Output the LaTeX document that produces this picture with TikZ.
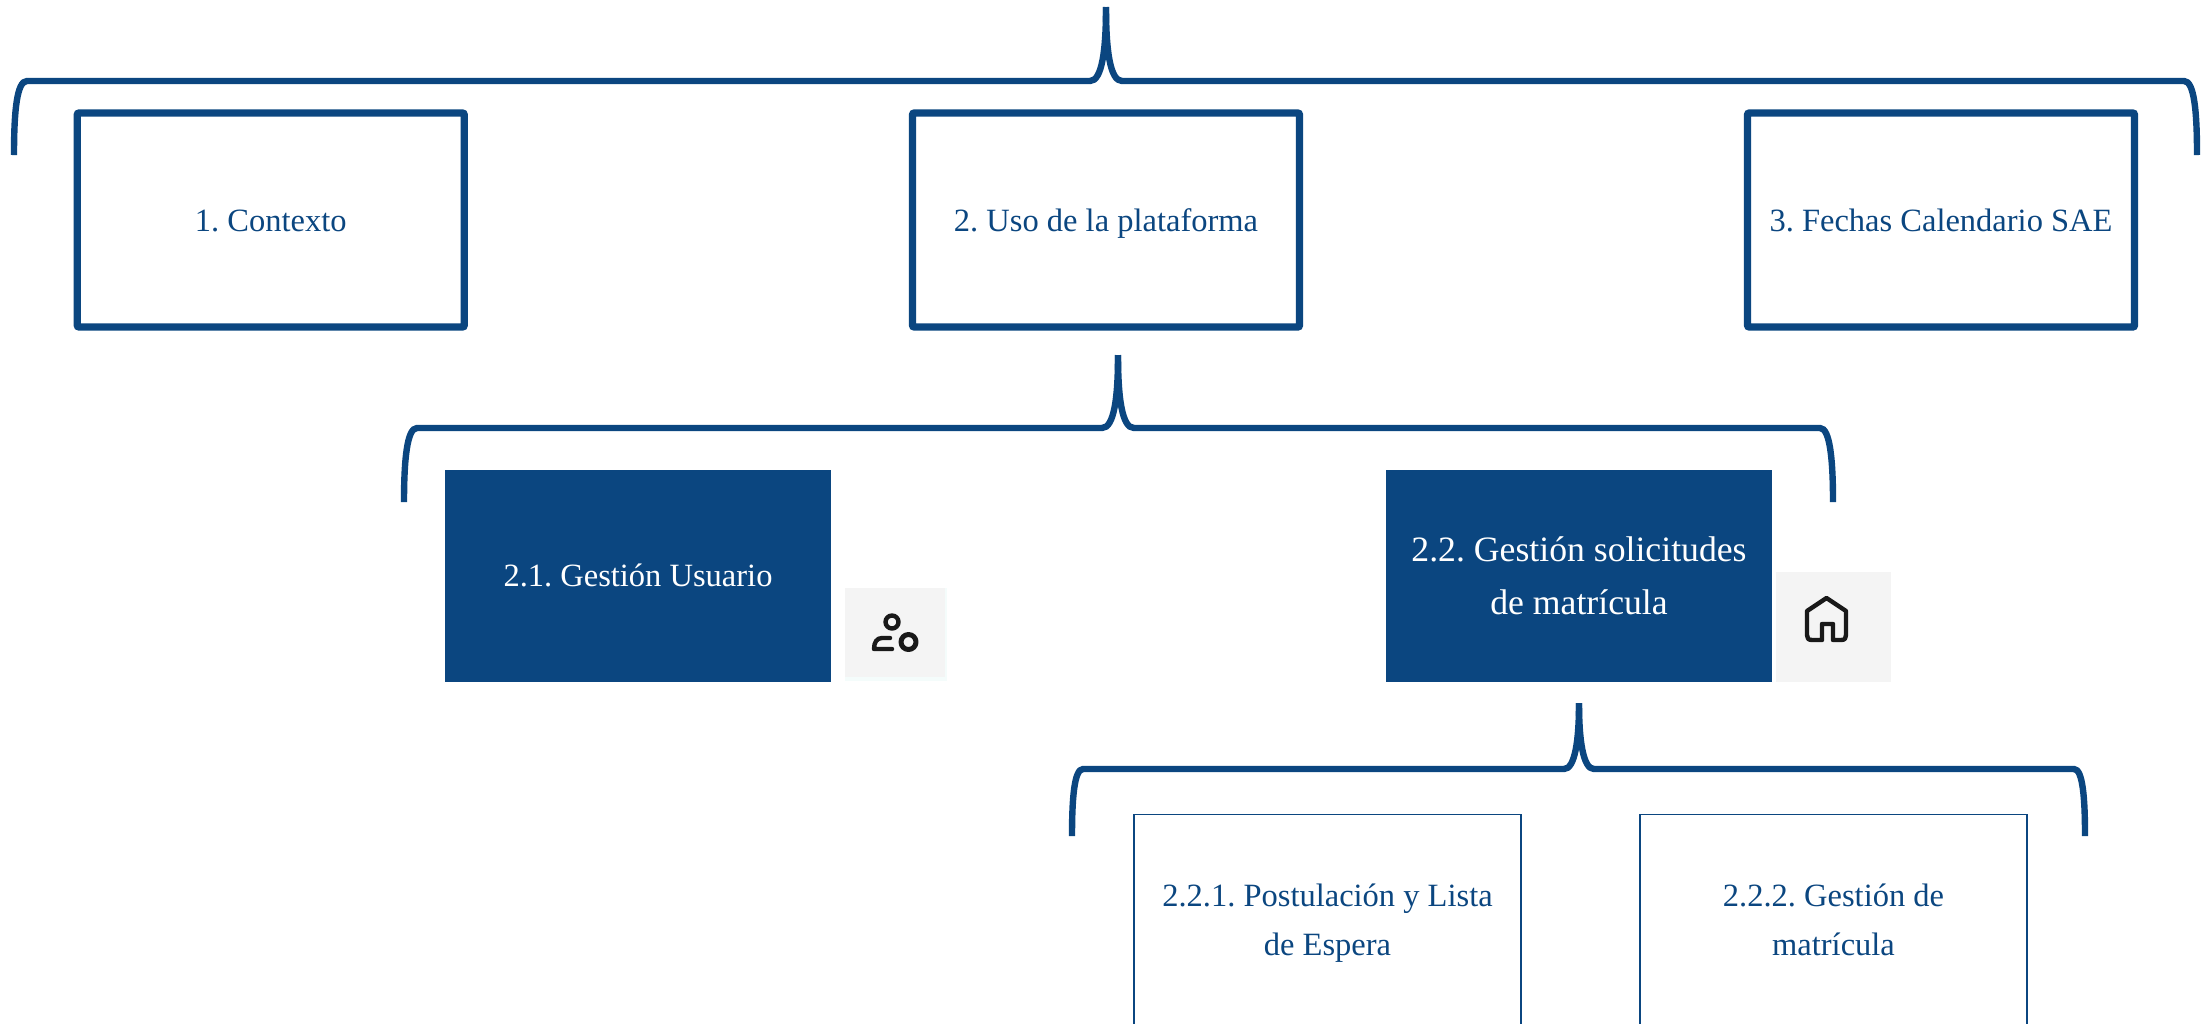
\documentclass[tikz,border=0pt]{standalone}
\usepackage{fontspec}
\setmainfont{Liberation Serif}
\definecolor{navy}{HTML}{0B4680}
\definecolor{iconbg}{HTML}{F4F4F4}
\definecolor{iconedge}{HTML}{F4FCFB}
\frenchspacing
\tikzset{
 x=1pt,y=-1pt,
 brace/.style={draw=navy,line width=6.4pt},
 thickbox/.style={draw=navy,line width=7.4pt,rounded corners=2pt,fill=white,minimum width=387pt,minimum height=214pt,text=navy,font=\fontsize{32.5}{50}\selectfont,align=center,inner sep=0pt,text height=22pt,text depth=0pt},
 solidbox/.style={fill=navy,minimum width=386pt,minimum height=212pt,text=white,font=\fontsize{35.7}{53}\selectfont,align=center,inner sep=0pt},
 thinbox/.style={draw=navy,line width=1.8pt},
 lab/.style={text=navy,font=\fontsize{32.5}{49.5}\selectfont,align=center,inner sep=0pt},
 iconbox/.style={fill=iconbg,inner sep=0pt},
 iconline/.style={draw=black!90,line width=4.4pt,line cap=round,line join=round},
}
\begin{document}
\begin{tikzpicture}
\useasboundingbox (0,0) rectangle (2208,1023);
% top brace
\coordinate (t1) at (1106,7);\coordinate (t1l) at (14,155);\coordinate (t1r) at (2197,155);
\draw[brace] (t1l) .. controls (14,110) and (17,81) .. (27,81) -- (1090,81) .. controls (1102,81) and (1106,50) .. (t1);
\draw[brace] (t1r) .. controls (2197,110) and (2194,81) .. (2184,81) -- (1122,81) .. controls (1110,81) and (1106,50) .. (t1);
\node[thickbox] (n1) at (270.75,220) {1. Contexto};
\node[thickbox] (n2) at (1106,220) {2. Uso de la plataforma};
\node[thickbox] (n3) at (1941,220) {3. Fechas Calendario SAE};
% second brace
\coordinate (t2) at (1118,355);\coordinate (t2l) at (404,502);\coordinate (t2r) at (1833,502);
\draw[brace] (t2l) .. controls (404,460) and (407,428) .. (417,428) -- (1102,428) .. controls (1114,428) and (1118,398) .. (t2);
\draw[brace] (t2r) .. controls (1833,460) and (1830,428) .. (1820,428) -- (1134,428) .. controls (1122,428) and (1118,398) .. (t2);
\node[solidbox,font=\fontsize{32.5}{50}\selectfont,text height=22pt,text depth=0pt] (n21) at (638,575.5) {2.1. Gestión Usuario};
\node[solidbox] (n22) at (1579,575.5) {};
\node[text=white,font=\fontsize{35.7}{53}\selectfont,align=center,inner sep=0pt] (n22t) at (1579,577) {\strut 2.2. Gestión solicitudes\\\strut de matrícula};
% icons
\fill[iconedge] (845,588) rectangle (947,681);
\node[iconbox,minimum width=100pt,minimum height=89pt] (i1) at (895,632.5) {};
\node[iconbox,minimum width=115pt,minimum height=110pt] (i2) at (1833.5,627) {};
\draw[iconline] (892,622) circle (6.5);
\draw[iconline] (890,638) -- (882,638) .. controls (877,638) and (874,642) .. (874,649) -- (892,649);
\draw[iconline,line width=5pt] (908.5,642) circle (7.5);
\draw[iconline] (1822,640) -- (1822,624) -- (1833,624) -- (1833,640) -- (1841,640) .. controls (1845,640) and (1846,638) .. (1846,635) -- (1846,611) -- (1826.5,598) -- (1807,611) -- (1807,635) .. controls (1807,638) and (1808,640) .. (1812,640) -- cycle;
% third brace
\coordinate (t3) at (1579,703);\coordinate (t3l) at (1072,836);\coordinate (t3r) at (2085,836);
\draw[brace] (t3l) .. controls (1072,800) and (1074,769) .. (1083,769) -- (1564,769) .. controls (1575,769) and (1579,740) .. (t3);
\draw[brace] (t3r) .. controls (2085,800) and (2083,769) .. (2074,769) -- (1594,769) .. controls (1583,769) and (1579,740) .. (t3);
% third-level boxes (cut by the lower edge)
\coordinate (a1) at (1134,1030);\coordinate (a2) at (1134,814.5);\coordinate (a3) at (1521,814.5);\coordinate (a4) at (1521,1030);
\coordinate (b1) at (1640,1030);\coordinate (b2) at (1640,814.5);\coordinate (b3) at (2027,814.5);\coordinate (b4) at (2027,1030);
\begin{scope}
\clip (0,0) rectangle (2208,1023);
\draw[thinbox] (a1) -- (a2) -- (a3) -- (a4);
\draw[thinbox] (b1) -- (b2) -- (b3) -- (b4);
\end{scope}
\node[lab] (n221) at (1327.5,921) {\strut 2.2.1. Postulación y Lista\\\strut de Espera};
\node[lab] (n222) at (1833.5,921) {\strut 2.2.2. Gestión de\\\strut matrícula};
\end{tikzpicture}
\end{document}
